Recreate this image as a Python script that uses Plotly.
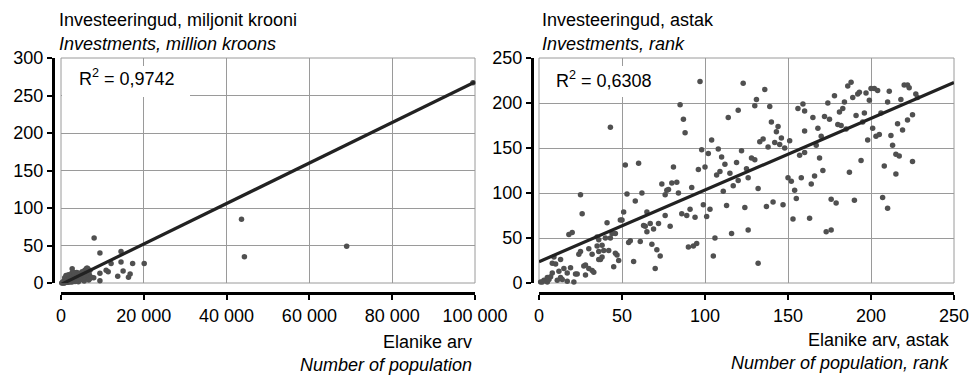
import plotly.graph_objects as go

# ---------------- data ----------------
left_title_et = "Investeeringud, miljonit krooni"
left_title_en = "Investments, million kroons"
left_xtitle_et = "Elanike arv"
left_xtitle_en = "Number of population"
right_title_et = "Investeeringud, astak"
right_title_en = "Investments, rank"
right_xtitle_et = "Elanike arv, astak"
right_xtitle_en = "Number of population, rank"

left_r2 = "R<sup>2</sup> = 0,9742"
right_r2 = "R<sup>2</sup> = 0,6308"

left_x_ticks = [0, 20000, 40000, 60000, 80000, 100000]
left_x_ticktext = ["0", "20 000", "40 000", "60 000", "80 000", "100 000"]
left_y_ticks = [0, 50, 100, 150, 200, 250, 300]
right_x_ticks = [0, 50, 100, 150, 200, 250]
right_y_ticks = [0, 50, 100, 150, 200, 250]

# population vs investments (million kroons)
left_points = [
    (200, 0.1), (300, 0.2), (450, 0.5), (500, 1.2), (600, 0.3), (650, 2.2), (700, 1.0), (750, 0.1),
    (800, 0.6), (850, 3.0), (900, 1.5), (900, 7.0), (950, 0.8), (1000, 2.0), (1050, 1.2), (1100, 0.5),
    (1150, 2.5), (1200, 1.8), (1200, 10.0), (1250, 3.0), (1300, 1.0), (1350, 2.2), (1400, 3.5),
    (1450, 1.5), (1500, 4.0), (1550, 2.8), (1600, 0.9), (1650, 3.2), (1700, 5.0), (1750, 2.0),
    (1800, 4.2), (1800, 9.0), (1800, 11.0), (1850, 1.4), (1900, 3.8), (1950, 6.0), (2000, 2.6),
    (2050, 4.5), (2100, 1.8), (2150, 5.5), (2200, 3.1), (2250, 7.0), (2300, 2.2), (2350, 4.8),
    (2400, 6.2), (2450, 1.2), (2500, 3.6), (2550, 5.2), (2600, 8.0), (2600, 13.0), (2650, 2.9),
    (2700, 4.1), (2700, 19.0), (2750, 6.8), (2800, 1.7), (2850, 5.9), (2900, 3.3), (2950, 9.0),
    (3000, 4.4), (3050, 7.3), (3100, 2.4), (3100, 14.0), (3150, 6.1), (3200, 10.5), (3200, 13.5),
    (3250, 3.9), (3300, 5.0), (3350, 8.2), (3400, 2.0), (3450, 6.6), (3500, 12.0), (3550, 4.7),
    (3600, 7.8), (3650, 3.0), (3700, 9.5), (3750, 5.6), (3800, 14.0), (3850, 6.9), (3900, 4.0),
    (3950, 8.8), (4000, 11.0), (4100, 5.2), (4200, 1.5), (4200, 7.5), (4300, 13.0), (4400, 3.5),
    (4500, 9.8), (4600, 6.3), (4700, 12.5), (4800, 8.4), (4900, 4.6), (5000, 10.8), (5100, 15.0),
    (5200, 7.1), (5300, 11.6), (5400, 5.8), (5500, 13.5), (5600, 2.5), (5600, 9.2), (5700, 16.5),
    (5800, 6.7), (5900, 12.0), (6000, 18.0), (6100, 8.5), (6200, 14.2), (6200, 19.6), (6300, 10.2),
    (6400, 19.5), (6500, 7.4), (6600, 15.5), (6700, 4.0), (6800, 11.8), (7000, 17.0), (7200, 8.0),
    (7000, 6), (7900, 7), (8000, 60), (9400, 40), (9400, 13), (9400, 3), (10900, 17), (11400, 15),
    (12100, 26), (13700, 9), (14500, 42), (14500, 28), (15000, 16), (16300, 7.5), (16700, 12),
    (17300, 26), (20100, 26), (43600, 85), (44300, 35), (69000, 49), (99500, 267),
]
left_pop = [p[0] for p in left_points]
left_inv = [p[1] for p in left_points]

# population rank vs investment rank
right_points = [
    (97, 224), (123, 222), (131, 204), (85, 198), (130, 197), (120, 192), (87, 182), (114, 184),
    (43, 173), (88, 167), (104, 159), (98, 148), (102, 144), (108, 149), (122, 147), (110, 140),
    (128, 139), (130, 137), (52, 131), (60, 133), (81, 129), (96, 126), (100, 129), (112, 132),
    (119, 134), (109, 124), (107, 120), (115, 122), (125, 127), (126, 117),
    (136, 215), (139, 196), (140, 179), (144, 174), (143, 168), (135, 160), (133, 157), (138, 151),
    (142, 156), (145, 154), (146, 161), (148, 150), (151, 158), (137, 85), (141, 90), (147, 87),
    (153, 71), (163, 72), (150, 117), (152, 113), (154, 103), (155, 94), (158, 117), (164, 110),
    (166, 119), (169, 139), (171, 125), (157, 142), (160, 145), (156, 194), (159, 199), (160, 191),
    (160, 169), (165, 184), (168, 172), (170, 163), (167, 153), (172, 185), (175, 182), (174, 200),
    (178, 208), (181, 190), (183, 194), (184, 201), (180, 176), (182, 175), (185, 171), (186, 219),
    (188, 223), (189, 206), (192, 210), (193, 212), (197, 211), (191, 186), (196, 189), (195, 179),
    (199, 203), (200, 216), (202, 216), (204, 214), (201, 172), (203, 163), (205, 165), (198, 159),
    (206, 189), (211, 213), (210, 201), (212, 164), (213, 153), (215, 143), (217, 141), (216, 177),
    (219, 170), (222, 181), (225, 187), (218, 204), (220, 220), (222, 220), (223, 217), (227, 210),
    (228, 206), (225, 135), (194, 136), (187, 123), (208, 130), (215, 121), (176, 93), (179, 89),
    (190, 92), (207, 95), (210, 83), (173, 57), (176, 59),
    (25, 98), (26, 77), (53, 99), (58, 91), (62, 100), (74, 110), (76, 98), (77, 103), (80, 111),
    (83, 112), (84, 100), (78, 104), (92, 106), (117, 108), (120, 114), (132, 105), (111, 102),
    (99, 87), (103, 82), (113, 86), (124, 84), (101, 74), (106, 50), (105, 30), (116, 55), (126, 59),
    (132, 22), (86, 77), (89, 75), (91, 82), (94, 73), (79, 63), (90, 40), (93, 41), (95, 44),
    (65, 79), (65, 57), (64, 63), (67, 66), (69, 60), (72, 66), (51, 79), (50, 70), (41, 67),
    (46, 55), (44, 55), (43, 50), (40, 50), (36, 48), (38, 42), (42, 36), (39, 36), (37, 26),
    (38, 29), (47, 31), (45, 18), (48, 25), (54, 45), (55, 47), (57, 24), (61, 46), (68, 43),
    (71, 37), (73, 30), (70, 16), (30, 38), (32, 32), (25, 35), (24, 32), (27, 19), (28, 20),
    (32, 14), (33, 12), (28, 9), (18, 54), (20, 56), (13, 26), (9, 29), (10, 21), (15, 16),
    (17, 11), (19, 17), (22, 10), (13, 6), (14, 4), (11, 3), (17, 2), (21, 1), (8, 11), (7, 7),
    (5, 6), (3, 3), (1, 1), (5, 1), (35, 51), (35, 41), (36, 35), (46, 33), (36, 26), (8, 22),
    (12, 13), (30, 16), (23, 10), (6, 4), (76, 75), (63, 64), (49, 70), (2, 1),
]
right_pop_rank = [p[0] for p in right_points]
right_inv_rank = [p[1] for p in right_points]

# linear trend lines (intercept, slope)
left_trend = (-2.0, 0.0027)
right_trend = (23.7, 0.796)

# ---------------- layout helpers ----------------
W, H = 980, 376
def fx(x):
    return x / W
def fy(y):
    return 1 - y / H

FONT = "Arial, Liberation Sans, sans-serif"
FS = 18
DOT = "#505050"
GRID = "#9a9a9a"

# plot-area pixel boxes (left, right, top, bottom)
L_BOX = (61, 475, 58, 283)
R_BOX = (539, 954, 58, 283)

fig = go.Figure()

fig.add_trace(go.Scatter(x=left_pop, y=left_inv, mode="markers", xaxis="x", yaxis="y",
                         marker=dict(size=5.5, color=DOT), cliponaxis=False, hoverinfo="skip"))
lx = [0, left_x_ticks[-1]]
fig.add_trace(go.Scatter(x=lx, y=[left_trend[0] + left_trend[1] * v for v in lx], mode="lines",
                         xaxis="x", yaxis="y", line=dict(color="#222222", width=3.2),
                         cliponaxis=False, hoverinfo="skip"))

fig.add_trace(go.Scatter(x=right_pop_rank, y=right_inv_rank, mode="markers", xaxis="x2", yaxis="y2",
                         marker=dict(size=5.5, color=DOT), cliponaxis=False, hoverinfo="skip"))
rx = [0, right_x_ticks[-1]]
fig.add_trace(go.Scatter(x=rx, y=[right_trend[0] + right_trend[1] * v for v in rx], mode="lines",
                         xaxis="x2", yaxis="y2", line=dict(color="#222222", width=3.2),
                         cliponaxis=False, hoverinfo="skip"))

axis_common = dict(showline=True, linecolor="black", linewidth=3, ticks="outside", ticklen=5,
                   tickwidth=1.5, tickcolor="black", showgrid=True, gridcolor=GRID, gridwidth=1,
                   zeroline=False, tickfont=dict(family=FONT, size=FS, color="black"),
                   anchor="free", automargin=False)

fig.update_layout(
    template="none",
    width=W, height=H, autosize=False, margin=dict(l=0, r=0, t=0, b=0, pad=0),
    paper_bgcolor="white", plot_bgcolor="white", showlegend=False,
    font=dict(family=FONT, size=FS, color="black"),
    xaxis=dict(domain=[fx(L_BOX[0]), fx(L_BOX[1])], range=[0, 100000], tickvals=left_x_ticks,
               ticktext=left_x_ticktext, position=fy(293), **axis_common),
    yaxis=dict(domain=[fy(L_BOX[3]), fy(L_BOX[2])], range=[0, 300], tickvals=left_y_ticks,
               position=fx(53), **axis_common),
    xaxis2=dict(domain=[fx(R_BOX[0]), fx(R_BOX[1])], range=[0, 250], tickvals=right_x_ticks,
                position=fy(293), **axis_common),
    yaxis2=dict(domain=[fy(R_BOX[3]), fy(R_BOX[2])], range=[0, 250], tickvals=right_y_ticks,
                position=fx(532), **axis_common),
)

def dom_rect(box, xr, yr, px0, px1, py0, py1, **kw):
    l, r, t, b = box
    return dict(type="rect", xref=xr + " domain", yref=yr + " domain",
                x0=(px0 - l) / (r - l), x1=(px1 - l) / (r - l),
                y0=(b - py1) / (b - t), y1=(b - py0) / (b - t), **kw)

shapes = []
for xr, yr in (("x", "y"), ("x2", "y2")):
    shapes.append(dict(type="rect", xref=xr + " domain", yref=yr + " domain", x0=0, x1=1, y0=0, y1=1,
                       line=dict(color=GRID, width=1), layer="below"))
# white boxes behind the R² labels (hide gridlines)
shapes.append(dom_rect(L_BOX, "x", "y", 62, 190, 66, 97, line=dict(width=0), fillcolor="white",
                       layer="above"))
shapes.append(dom_rect(R_BOX, "x2", "y2", 540, 667, 66, 97, line=dict(width=0), fillcolor="white",
                       layer="above"))
fig.update_layout(shapes=shapes)

def ann(text, x, y, xanchor="left", italic=False):
    t = "<i>" + text + "</i>" if italic else text
    return dict(text=t, x=fx(x), y=fy(y), xref="paper", yref="paper", xanchor=xanchor,
                yanchor="middle", showarrow=False, font=dict(family=FONT, size=FS, color="black"))

fig.update_layout(annotations=[
    ann(left_title_et, 57, 20),
    ann(left_title_en, 57, 44, italic=True),
    ann(right_title_et, 540, 20),
    ann(right_title_en, 540, 44, italic=True),
    ann(left_xtitle_et, 474, 342, xanchor="right"),
    ann(left_xtitle_en, 474, 365, xanchor="right", italic=True),
    ann(right_xtitle_et, 952, 340, xanchor="right"),
    ann(right_xtitle_en, 951, 363, xanchor="right", italic=True),
    ann(left_r2, 77, 78),
    ann(right_r2, 554, 80),
])

fig.write_html("out.html", config={"responsive": False, "displayModeBar": False},
               post_script="document.body.style.margin='0';document.body.style.overflow='hidden';")
